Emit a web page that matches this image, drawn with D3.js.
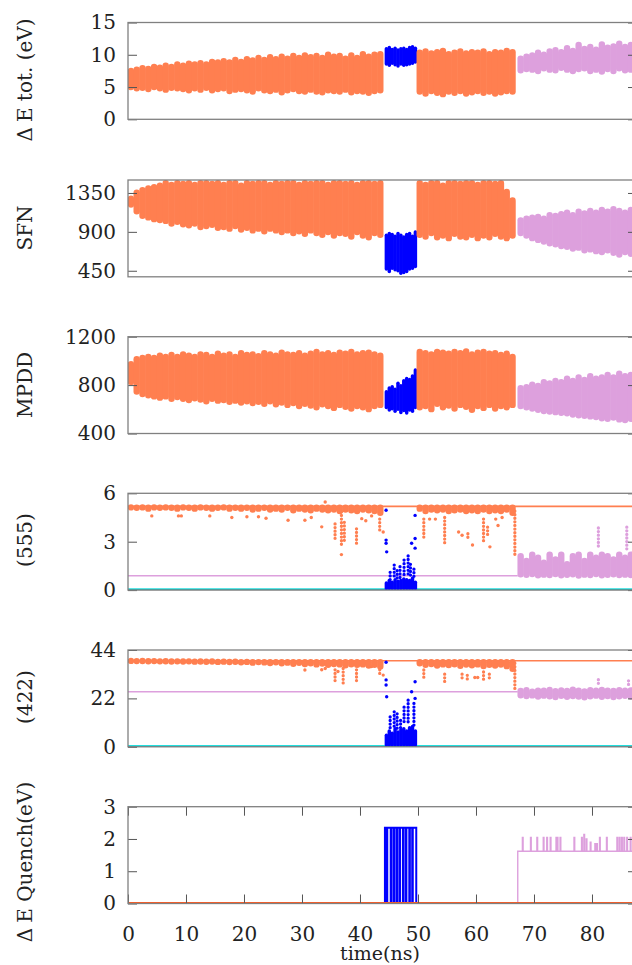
<!DOCTYPE html>
<html>
<head>
<meta charset="utf-8">
<script src="https://cdn.jsdelivr.net/npm/d3@7"></script>
<style>
  body { margin: 0; background: #fff; }
  svg { display: block; }
  text { font-family: "DejaVu Serif", serif; fill: #222; }
</style>
</head>
<body>
<svg id="chart"></svg>
<script>
var width = 632,
    height = 965,
    left = 128,
    right = 637,
    tMax = 87.76,
    panelTop = [22.5, 180, 336.7, 493.3, 650, 806.7],
    panelHeight = 96.8;

var coral = '#ff7f50', blue = '#0000ff', plum = '#dda0dd';

// time layout of the scatter clouds (ns)
var orangeAStart = 0.5, orangeBStart = 50.3, pinkStart = 67.7, blueStart = 44.55;
var coarseStep = 1, blueStep = 0.5;

// ---- panel 1: dE tot. (eV)
var eTotTicks = [0, 5, 10, 15];
var eTotOrangeAHi = [8.0, 8.2, 8.4, 8.3, 8.6, 8.5, 8.8, 8.6, 9.0, 8.8, 9.1, 9.0, 9.2, 9.0, 9.4, 9.3, 9.5, 9.3, 9.7, 9.4,
    9.8, 9.6, 10.0, 9.7, 10.1, 9.8, 10.2, 9.9, 10.3, 10.0, 10.4, 10.1, 10.3, 10.0, 10.5, 10.2, 10.3, 9.9, 10.4, 10.0,
    10.6, 10.2, 10.5, 10.6];
var eTotOrangeALo = [4.5, 4.3, 4.4, 4.2, 4.5, 4.3, 4.1, 4.4, 4.3, 4.2, 4.0, 4.3, 4.1, 4.4, 4.0, 4.2, 4.3, 3.9, 4.1, 4.2,
    4.0, 3.8, 4.3, 4.0, 3.9, 4.1, 3.7, 4.0, 4.2, 3.9, 3.8, 4.1, 3.8, 3.7, 4.0, 3.9, 3.8, 4.1, 3.7, 3.9,
    3.8, 3.6, 3.9, 4.0];
var eTotBlueHi = [11.2, 11.4, 11.1, 11.3, 11.0, 11.2, 11.3, 11.1, 11.4, 11.5, 11.3];
var eTotBlueLo = [8.3, 8.1, 8.4, 8.2, 8.0, 8.3, 8.1, 8.2, 8.3, 8.4, 8.6];
var eTotOrangeBHi = [10.8, 11.0, 10.7, 10.9, 11.1, 10.6, 10.8, 11.0, 10.7, 10.9, 10.8, 11.0, 10.6, 10.9, 10.8, 11.1, 10.9];
var eTotOrangeBLo = [3.8, 3.5, 3.9, 3.6, 3.4, 3.8, 3.6, 3.9, 3.5, 3.7, 3.9, 3.6, 3.8, 3.5, 3.7, 3.9, 3.8];
var eTotPinkHi = [9.9, 10.2, 10.4, 10.8, 10.5, 11.0, 11.2, 10.9, 11.5, 11.1, 12.0, 11.4, 11.7, 11.3, 12.1, 11.6, 11.8, 12.2, 11.7, 12.0];
var eTotPinkLo = [7.1, 7.3, 7.2, 7.0, 7.4, 7.2, 7.1, 7.5, 7.2, 7.0, 7.3, 7.4, 7.0, 7.2, 6.9, 7.3, 7.0, 7.4, 7.1, 7.2];

// ---- panel 2: SFN
var sfnTicks = [450, 900, 1350];
var sfnOrangeAHi = [1320, 1390, 1420, 1440, 1455, 1470, 1500, 1480, 1500, 1490, 1500, 1480, 1500, 1500, 1490, 1500, 1480, 1500, 1500, 1470,
    1500, 1490, 1500, 1500, 1480, 1500, 1490, 1500, 1500, 1480, 1500, 1490, 1500, 1500, 1480, 1500, 1500, 1490, 1500, 1480,
    1500, 1500, 1490, 1500];
var sfnOrangeALo = [1180, 1100, 1050, 1030, 1010, 1000, 990, 960, 980, 950, 940, 960, 920, 930, 945, 910, 920, 900, 930, 890,
    910, 880, 900, 870, 900, 880, 860, 880, 850, 870, 840, 880, 850, 830, 860, 820, 850, 840, 810, 860,
    820, 800, 850, 830];
var sfnBlueHi = [880, 900, 890, 870, 900, 880, 860, 890, 900, 870, 920];
var sfnBlueLo = [450, 420, 460, 440, 430, 400, 410, 420, 450, 460, 480];
var sfnOrangeBHi = [1500, 1480, 1500, 1500, 1470, 1500, 1500, 1490, 1500, 1500, 1480, 1500, 1500, 1490, 1500, 1400, 1300];
var sfnOrangeBLo = [830, 810, 850, 800, 820, 790, 840, 810, 800, 830, 790, 820, 800, 840, 810, 790, 820];
var sfnPinkHi = [1070, 1090, 1100, 1110, 1090, 1130, 1120, 1140, 1160, 1130, 1170, 1150, 1180, 1160, 1190, 1170, 1200, 1180, 1160, 1190];
var sfnPinkLo = [850, 820, 790, 770, 750, 730, 720, 700, 690, 670, 680, 650, 660, 640, 630, 650, 620, 600, 630, 610];

// ---- panel 3: MPDD
var mpddTicks = [400, 800, 1200];
var mpddOrangeAHi = [1000, 1040, 1050, 1060, 1050, 1070, 1060, 1075, 1060, 1080, 1070, 1060, 1080, 1075, 1060, 1085, 1070, 1080, 1060, 1090,
    1075, 1080, 1065, 1090, 1080, 1070, 1095, 1080, 1075, 1090, 1070, 1085, 1100, 1080, 1090, 1075, 1095, 1085, 1100, 1080,
    1090, 1095, 1080, 1070];
var mpddOrangeALo = [800, 720, 700, 690, 680, 670, 680, 660, 675, 660, 650, 665, 655, 640, 660, 645, 650, 635, 645, 630,
    640, 625, 635, 620, 640, 615, 630, 610, 625, 600, 620, 605, 590, 615, 600, 585, 610, 595, 580, 600,
    590, 575, 600, 610];
var mpddBlueHi = [760, 790, 800, 780, 830, 810, 850, 870, 860, 890, 940];
var mpddBlueLo = [600, 580, 590, 570, 585, 560, 575, 555, 580, 570, 600];
var mpddOrangeBHi = [1100, 1090, 1080, 1100, 1095, 1085, 1100, 1090, 1105, 1080, 1095, 1100, 1085, 1090, 1075, 1085, 1060];
var mpddOrangeBLo = [590, 600, 575, 620, 590, 605, 580, 610, 595, 570, 600, 585, 610, 580, 600, 590, 610];
var mpddPinkHi = [800, 810, 830, 820, 850, 840, 860, 850, 880, 860, 890, 870, 900, 880, 890, 910, 890, 920, 900, 910];
var mpddPinkLo = [600, 590, 580, 570, 560, 555, 550, 545, 540, 530, 525, 520, 515, 510, 500, 495, 505, 490, 485, 495];

// ---- panel 4: (555)
var p555Ticks = [0, 3, 6];
var p555OrangeLevel = 5.19, p555PinkLevel = 0.89;
var p555OrangeAHi = [5.3, 5.3, 5.3, 5.3, 5.3, 5.3, 5.3, 5.3, 5.3, 5.3, 5.3, 5.3, 5.3, 5.3, 5.3, 5.3, 5.3, 5.3, 5.3, 5.3,
    5.3, 5.3, 5.3, 5.3, 5.3, 5.3, 5.3, 5.3, 5.3, 5.3, 5.3, 5.3, 5.3, 5.3, 5.3, 5.3, 5.3, 5.3, 5.3, 5.3,
    5.3, 5.3, 5.3, 5.3];
var p555OrangeALo = [4.95, 4.9, 4.95, 4.85, 4.95, 4.9, 4.95, 4.9, 4.85, 4.95, 4.9, 4.85, 4.95, 4.9, 4.85, 4.9, 4.95, 4.85, 4.9, 4.85,
    4.9, 4.8, 4.85, 4.9, 4.8, 4.85, 4.8, 4.9, 4.75, 4.85, 4.8, 4.75, 4.85, 4.8, 4.75, 4.8, 4.7, 4.8, 4.75, 4.7,
    4.8, 4.75, 4.7, 4.6];
var p555BlueHi = [0.55, 0.7, 0.6, 0.75, 0.65, 0.7, 0.8, 0.75, 0.7, 0.85, 0.6];
var p555BlueLo = [0, 0, 0, 0, 0, 0, 0, 0, 0, 0, 0];
var p555OrangeBHi = [5.3, 5.3, 5.3, 5.3, 5.3, 5.3, 5.3, 5.3, 5.3, 5.3, 5.3, 5.3, 5.3, 5.3, 5.3, 5.3, 5.3];
var p555OrangeBLo = [4.85, 4.7, 4.8, 4.75, 4.8, 4.7, 4.75, 4.8, 4.7, 4.75, 4.7, 4.8, 4.7, 4.75, 4.7, 4.8, 4.6];
var p555PinkHi = [2.3, 2.0, 2.4, 2.2, 1.9, 2.4, 2.1, 2.4, 1.8, 2.3, 2.4, 2.0, 2.4, 2.2, 2.4, 2.3, 2.1, 2.4, 2.2, 2.4];
var p555PinkLo = [0.78, 0.75, 0.8, 0.72, 0.76, 0.74, 0.8, 0.72, 0.75, 0.78, 0.7, 0.76, 0.74, 0.8, 0.72, 0.75, 0.78, 0.73, 0.76, 0.74];
var p555OrangeStreaks = [[35.7, 3.1, 4.1], [36.8, 2.8, 4.85], [37.3, 3.0, 4.2], [39.4, 2.9, 3.8], [43.4, 3.6, 4.4],
    [51.0, 3.2, 4.4], [54.6, 2.8, 4.5], [58.6, 3.1, 3.5], [61.3, 2.9, 4.4], [62.0, 3.4, 3.9], [66.7, 2.1, 4.9]];
var p555OrangePoints = [[4.1, 4.6], [8.7, 4.6], [9.2, 4.6], [14.1, 4.6], [17.9, 4.5], [20.5, 4.55], [22.5, 4.55], [23.8, 4.45],
    [27.6, 4.33], [30.5, 4.33], [31.6, 4.5], [33.4, 3.92], [34.0, 5.46], [36.8, 2.2], [40.3, 4.43], [41.0, 4.3],
    [42.0, 4.6], [44.0, 3.6], [52.0, 4.4], [53.0, 4.4], [57.0, 3.6], [57.6, 3.4], [59.4, 2.8], [62.4, 2.68],
    [63.4, 4.4], [63.8, 4.0], [64.5, 4.5]];
var p555BlueStreaks = [[45.2, 0.6, 1.1], [45.9, 0.7, 1.55], [46.4, 0.7, 1.2], [46.9, 0.7, 1.45], [47.6, 0.8, 1.86],
    [48.3, 0.8, 2.12], [48.7, 0.8, 1.6], [49.3, 0.7, 1.3]];
var p555BluePoints = [[44.5, 4.95], [44.5, 3.1], [44.5, 2.9], [44.6, 2.37], [49.5, 4.63], [48.9, 2.9], [49.5, 3.2], [49.5, 2.6]];
var p555PinkStreaks = [[81.1, 2.6, 3.85], [86.0, 2.5, 3.9]];

// ---- panel 5: (422)
var p422Ticks = [0, 22, 44];
var p422OrangeLevel = 39.1, p422PinkLevel = 25.0;
var p422OrangeAHi = [39.9, 39.9, 39.9, 39.9, 39.9, 39.9, 39.9, 39.9, 39.9, 39.9, 39.9, 39.9, 39.9, 39.9, 39.9, 39.9, 39.9, 39.9, 39.9, 39.9,
    39.9, 39.9, 39.9, 39.9, 39.9, 39.9, 39.9, 39.9, 39.9, 39.9, 39.9, 39.9, 39.9, 39.9, 39.9, 39.9, 39.9, 39.9, 39.9, 39.9,
    39.9, 39.9, 39.9, 39.9];
var p422OrangeALo = [38.2, 38.0, 38.1, 37.9, 38.0, 37.8, 37.9, 37.7, 37.8, 37.6, 37.8, 37.5, 37.7, 37.4, 37.6, 37.3, 37.5, 37.2, 37.4, 37.0,
    37.3, 36.8, 37.1, 36.9, 36.6, 37.0, 36.5, 36.8, 36.3, 36.7, 36.2, 36.5, 36.0, 36.4, 35.8, 36.2, 36.0, 35.6, 36.1, 35.8,
    36.0, 35.5, 35.8, 35.0];
var p422BlueHi = [6, 8, 7, 9, 7.5, 8.5, 9, 8, 9.5, 10, 8];
var p422BlueLo = [0, 0, 0, 0, 0, 0, 0, 0, 0, 0, 0];
var p422OrangeBHi = [39.9, 39.9, 39.9, 39.9, 39.9, 39.9, 39.9, 39.9, 39.9, 39.9, 39.9, 39.9, 39.9, 39.9, 39.9, 39.9, 39.9];
var p422OrangeBLo = [36.5, 35.8, 36.2, 35.5, 36.0, 35.7, 36.1, 35.4, 35.9, 35.6, 36.0, 35.3, 35.8, 35.5, 35.9, 35.2, 34.0];
var p422PinkHi = [26.8, 27.2, 26.5, 27.0, 26.9, 27.3, 26.7, 27.1, 26.8, 27.4, 27.0, 26.6, 27.2, 26.9, 27.3, 27.0, 26.8, 27.2, 26.9, 27.1];
var p422PinkLo = [22.0, 21.6, 21.9, 21.4, 21.8, 21.5, 21.2, 21.7, 21.3, 21.6, 21.4, 21.1, 21.5, 21.8, 21.3, 21.6, 21.2, 21.5, 21.7, 21.4];
var p422OrangeStreaks = [[35.7, 29.5, 35.0], [37.1, 28.1, 35.6], [39.4, 30.0, 35.0], [43.4, 33, 35], [44.0, 31.1, 32.6],
    [51.0, 31, 34.9], [54.6, 29.6, 33], [57.6, 30, 33], [58.5, 30.5, 32.5], [61.3, 29.6, 34], [62.3, 31, 33], [66.7, 26.5, 38]];
var p422OrangePoints = [[30.5, 34.9], [33.4, 35], [34, 35.6], [36.2, 34.2], [42.0, 36.5], [59.8, 31.5], [60.3, 31.5]];
var p422BlueStreaks = [[45.2, 8, 13.6], [45.9, 9, 15.9], [46.4, 8, 15], [47.0, 8, 12], [47.6, 10, 18], [48.3, 10, 21.2], [49.3, 9, 19.7]];
var p422BluePoints = [[44.5, 38.4], [44.5, 30.4], [44.5, 28.1], [44.6, 22.75], [49.5, 29.6], [48.9, 25], [49.5, 22]];
var p422PinkStreaks = [[81.1, 28.5, 30.5], [86.3, 28, 30]];

// ---- panel 6: dE Quench (eV)
var quenchTicks = [0, 1, 2, 3];
var timeTicks = [0, 10, 20, 30, 40, 50, 60, 70, 80];
var blueQuenchT = [44.3, 44.3, 44.6, 44.7, 45.3, 45.4, 45.8, 45.9, 46.3, 46.4, 46.8, 46.9, 47.4, 47.5, 47.9, 48.0, 48.5, 48.6, 49.0, 49.1, 49.7];
var blueQuenchV = [0, 2.35, 0, 2.35, 0, 2.35, 0, 2.35, 0, 2.35, 0, 2.35, 0, 2.35, 0, 2.35, 0, 2.35, 0, 2.35, 0];
var pinkQuenchStart = 67.2, pinkQuenchLevel = 1.62;
var pinkSpikeT = [68.0, 69.4, 70.5, 71.6, 72.2, 72.8, 73.8, 74.0, 74.5, 76.9, 78.2, 78.6, 79.0, 79.7, 80.5, 80.8, 81.3, 82.5, 84.3, 84.7, 85.1, 85.5, 86.0, 86.6];
var pinkSpikeV = [2.05, 2.05, 2.05, 2.05, 2.05, 2.05, 2.05, 2.05, 2.05, 2.05, 2.05, 2.14, 2.0, 1.9, 1.85, 1.85, 2.05, 2.05, 2.05, 2.05, 2.05, 2.05, 2.05, 2.05];

var svg = d3.select('svg#chart')
    .attr('width', width)
    .attr('height', height);
svg.append('rect').attr('width', width).attr('height', height).attr('fill', 'white');

var x = d3.scaleLinear().domain([0, tMax]).range([left, right]);

function makePanel(i, domain, ticks) {
    var top = panelTop[i];
    var y = d3.scaleLinear().domain(domain).range([top + panelHeight, top]);
    svg.append('clipPath').attr('id', 'clip' + i)
        .append('rect')
        .attr('x', left).attr('y', top)
        .attr('width', right - left).attr('height', panelHeight);
    var g = svg.append('g');
    return { i: i, y: y, top: top, ticks: ticks, g: g,
        plot: g.append('g').attr('clip-path', 'url(#clip' + i + ')') };
}

// dense cloud: one fat vertical stroke per time bin, from lo to hi
function drawBand(p, t0, step, hi, lo, color) {
    var w = x(step) - x(0) + 0.6, r = w / 2;
    p.plot.append('g').selectAll('line').data(hi).join('line')
        .attr('x1', function(d, i) { return x(t0 + i * step); })
        .attr('x2', function(d, i) { return x(t0 + i * step); })
        .attr('y1', function(d, i) { var a = p.y(d) + r, b = p.y(lo[i]) - r; return a < b ? a : (a + b) / 2; })
        .attr('y2', function(d, i) { var a = p.y(d) + r, b = p.y(lo[i]) - r; return a < b ? b : (a + b) / 2; })
        .attr('stroke', color)
        .attr('stroke-width', w)
        .attr('stroke-linecap', 'round');
}

// sparse runs of dots
function drawStreaks(p, list, color) {
    p.plot.append('g').selectAll('line').data(list).join('line')
        .attr('x1', function(d) { return x(d[0]); })
        .attr('x2', function(d) { return x(d[0]); })
        .attr('y1', function(d) { return p.y(d[2]); })
        .attr('y2', function(d) { return p.y(d[1]); })
        .attr('stroke', color)
        .attr('stroke-width', 3.3)
        .attr('stroke-linecap', 'round')
        .attr('stroke-dasharray', '0 3.6');
}

function drawPoints(p, list, color) {
    p.plot.append('g').selectAll('circle').data(list).join('circle')
        .attr('cx', function(d) { return x(d[0]); })
        .attr('cy', function(d) { return p.y(d[1]); })
        .attr('r', 1.7)
        .attr('fill', color);
}

function drawLevel(p, t1, t2, v, color, w) {
    p.plot.append('line')
        .attr('x1', x(t1)).attr('x2', x(t2))
        .attr('y1', p.y(v)).attr('y2', p.y(v))
        .attr('stroke', color).attr('stroke-width', w);
}

function styleAxis(a) {
    a.select('.domain').remove();
    a.selectAll('text').attr('font-size', 20).attr('font-family', '"DejaVu Serif", serif').attr('fill', '#222');
    a.selectAll('line').attr('stroke', '#555');
}

function drawFrame(p, showTime) {
    var plain = function(d) { return String(d); };
    styleAxis(p.g.append('g').attr('transform', 'translate(' + left + ',0)')
        .call(d3.axisLeft(p.y).tickValues(p.ticks).tickSize(-9).tickPadding(12).tickFormat(plain)));
    styleAxis(p.g.append('g').attr('transform', 'translate(' + right + ',0)')
        .call(d3.axisRight(p.y).tickValues(p.ticks).tickSize(-9).tickFormat('')));

    if (showTime) {
        styleAxis(p.g.append('g').attr('transform', 'translate(0,' + (p.top + panelHeight) + ')')
            .call(d3.axisBottom(x).tickValues(timeTicks).tickSize(-9).tickPadding(23).tickFormat(plain)));
        styleAxis(p.g.append('g').attr('transform', 'translate(0,' + p.top + ')')
            .call(d3.axisTop(x).tickValues(timeTicks).tickSize(-9).tickFormat('')));
    }

    p.g.append('rect')
        .attr('x', left).attr('y', p.top)
        .attr('width', right - left).attr('height', panelHeight)
        .attr('fill', 'none').attr('stroke', '#808080').attr('stroke-width', 1.3);
}

function yTitle(lead, rest, cy) {
    var t = svg.append('text')
        .attr('transform', 'translate(25,' + cy + ') rotate(-90)')
        .attr('text-anchor', 'middle')
        .attr('dominant-baseline', 'central')
        .attr('font-size', 20);
    if (lead) {
        t.append('tspan').text(lead);
        t.append('tspan').attr('dx', 5).text(rest);
    } else {
        t.text(rest);
    }
}

// panel 1
var p1 = makePanel(0, [0, 15], eTotTicks);
drawBand(p1, orangeAStart, coarseStep, eTotOrangeAHi, eTotOrangeALo, coral);
drawBand(p1, blueStart, blueStep, eTotBlueHi, eTotBlueLo, blue);
drawBand(p1, orangeBStart, coarseStep, eTotOrangeBHi, eTotOrangeBLo, coral);
drawBand(p1, pinkStart, coarseStep, eTotPinkHi, eTotPinkLo, plum);
drawFrame(p1, false);

// panel 2
var p2 = makePanel(1, [380, 1500], sfnTicks);
drawBand(p2, orangeAStart, coarseStep, sfnOrangeAHi, sfnOrangeALo, coral);
drawBand(p2, blueStart, blueStep, sfnBlueHi, sfnBlueLo, blue);
drawBand(p2, orangeBStart, coarseStep, sfnOrangeBHi, sfnOrangeBLo, coral);
drawBand(p2, pinkStart, coarseStep, sfnPinkHi, sfnPinkLo, plum);
drawFrame(p2, false);

// panel 3
var p3 = makePanel(2, [400, 1200], mpddTicks);
drawBand(p3, orangeAStart, coarseStep, mpddOrangeAHi, mpddOrangeALo, coral);
drawBand(p3, blueStart, blueStep, mpddBlueHi, mpddBlueLo, blue);
drawBand(p3, orangeBStart, coarseStep, mpddOrangeBHi, mpddOrangeBLo, coral);
drawBand(p3, pinkStart, coarseStep, mpddPinkHi, mpddPinkLo, plum);
drawFrame(p3, false);

// panels 4 and 5 share a layout
function orderPanel(p, lv) {
    drawLevel(p, 0, tMax, lv.orangeLevel, coral, 1.6);
    drawLevel(p, 0, pinkQuenchStart, lv.pinkLevel, plum, 1.6);
    drawLevel(p, 0, tMax, 0, '#22dede', 3.6);
    drawLevel(p, 0, tMax, 0, '#009a9a', 1.2);
    drawBand(p, orangeAStart, coarseStep, lv.orangeAHi, lv.orangeALo, coral);
    drawBand(p, orangeBStart, coarseStep, lv.orangeBHi, lv.orangeBLo, coral);
    drawStreaks(p, lv.orangeStreaks, coral);
    drawPoints(p, lv.orangePoints, coral);
    drawBand(p, pinkStart, coarseStep, lv.pinkHi, lv.pinkLo, plum);
    drawStreaks(p, lv.pinkStreaks, plum);
    drawBand(p, blueStart, blueStep, lv.blueHi, lv.blueLo, blue);
    drawStreaks(p, lv.blueStreaks, blue);
    drawPoints(p, lv.bluePoints, blue);
    drawFrame(p, false);
}

var p4 = makePanel(3, [0, 6], p555Ticks);
orderPanel(p4, { orangeLevel: p555OrangeLevel, pinkLevel: p555PinkLevel,
    orangeAHi: p555OrangeAHi, orangeALo: p555OrangeALo, orangeBHi: p555OrangeBHi, orangeBLo: p555OrangeBLo,
    pinkHi: p555PinkHi, pinkLo: p555PinkLo, blueHi: p555BlueHi, blueLo: p555BlueLo,
    orangeStreaks: p555OrangeStreaks, orangePoints: p555OrangePoints, pinkStreaks: p555PinkStreaks,
    blueStreaks: p555BlueStreaks, bluePoints: p555BluePoints });

var p5 = makePanel(4, [0, 44], p422Ticks);
orderPanel(p5, { orangeLevel: p422OrangeLevel, pinkLevel: p422PinkLevel,
    orangeAHi: p422OrangeAHi, orangeALo: p422OrangeALo, orangeBHi: p422OrangeBHi, orangeBLo: p422OrangeBLo,
    pinkHi: p422PinkHi, pinkLo: p422PinkLo, blueHi: p422BlueHi, blueLo: p422BlueLo,
    orangeStreaks: p422OrangeStreaks, orangePoints: p422OrangePoints, pinkStreaks: p422PinkStreaks,
    blueStreaks: p422BlueStreaks, bluePoints: p422BluePoints });

// panel 6
var p6 = makePanel(5, [0, 3], quenchTicks);
var blueQuench = blueQuenchT.map(function(t, i) { return [t, blueQuenchV[i]]; });
var pinkQuench = [[pinkQuenchStart, 0], [pinkQuenchStart, pinkQuenchLevel]];
pinkSpikeT.forEach(function(t, i) {
    pinkQuench.push([t, pinkQuenchLevel], [t, pinkSpikeV[i]], [t + 0.12, pinkSpikeV[i]], [t + 0.12, pinkQuenchLevel]);
});
pinkQuench.push([tMax, pinkQuenchLevel]);

p6.plot.append('path')
    .attr('d', d3.line().x(function(d) { return x(d[0]); }).y(function(d) { return p6.y(d[1]); }).curve(d3.curveStepAfter)(blueQuench))
    .attr('fill', 'none').attr('stroke', blue).attr('stroke-width', 2);
p6.plot.append('path')
    .attr('d', d3.line().x(function(d) { return x(d[0]); }).y(function(d) { return p6.y(d[1]); })(pinkQuench))
    .attr('fill', 'none').attr('stroke', plum).attr('stroke-width', 1.4);
drawLevel(p6, 0, tMax, 0, '#ff5a1f', 3);
drawLevel(p6, 0, tMax, 0, '#b03a10', 0.8);
drawFrame(p6, true);

yTitle('\u0394', 'E tot. (eV)', 80);
yTitle(null, 'SFN', 228);
yTitle(null, 'MPDD', 385);
yTitle(null, '(555)', 540);
yTitle(null, '(422)', 697);
yTitle('\u0394', 'E Quench(eV)', 862);

svg.append('text')
    .attr('x', 380).attr('y', 960)
    .attr('text-anchor', 'middle')
    .attr('font-size', 19)
    .text('time(ns)');
</script>
</body>
</html>
